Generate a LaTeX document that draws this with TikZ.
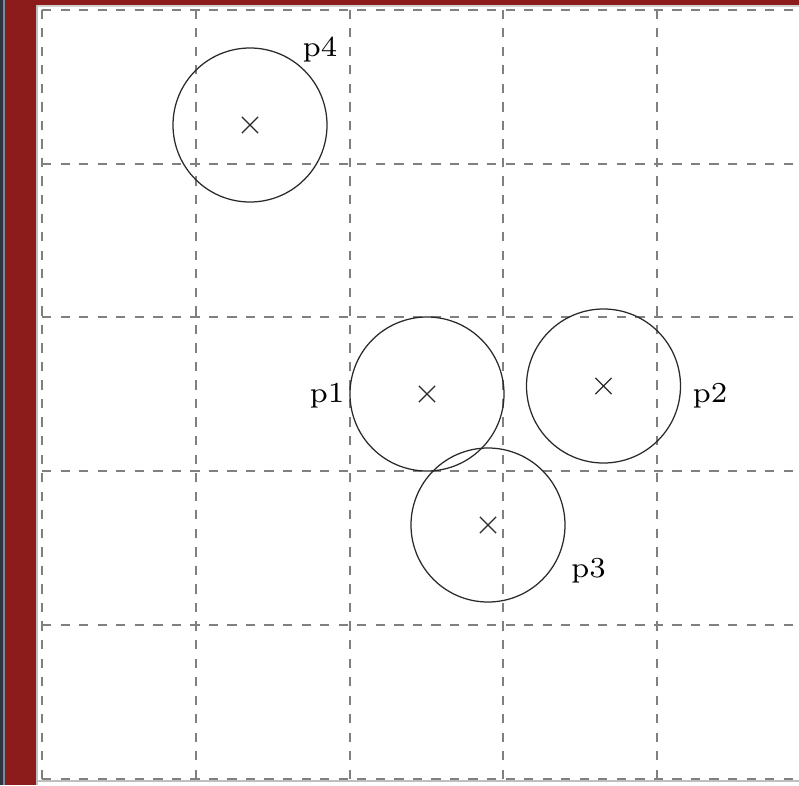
\documentclass[tikz,border=0pt]{standalone}
\usetikzlibrary{shapes.misc}
\font\labfont=cmr7 at 29pt
\definecolor{framered}{HTML}{8C1C1C}
\definecolor{darkbar}{HTML}{2E3440}
\definecolor{slatebar}{HTML}{7A8898}
\definecolor{gridgray}{HTML}{808080}
\definecolor{ink}{HTML}{2A2A2A}
\tikzset{
  gridline/.style={gridgray, line width=1.8pt, dash pattern=on 9.27pt off 9.27pt},
  ring/.style={circle, draw=ink, line width=1.25pt, minimum size=154pt, inner sep=0pt},
  xmark/.style={cross out, draw=ink, line width=1.2pt, minimum size=15pt, inner sep=0pt},
  lab/.style={anchor=base, inner sep=0pt, text=black, font=\labfont}
}
\begin{document}
\begin{tikzpicture}[x=1pt, y=-1pt]
\useasboundingbox (0,0) rectangle (799,785);
% window frame
\fill[white] (0,0) rectangle (799,785);
\fill[framered] (0,0) rectangle (36,785);
\fill[framered] (0,0) rectangle (799,5);
\fill[darkbar] (0,0) rectangle (3,785);
\fill[slatebar] (3,0) rectangle (5,785);
\fill[black!25] (36,5) rectangle (38,785);
\fill[black!18] (38,5) rectangle (799,6.5);
\fill[black!25] (38,780) rectangle (799,782);
\begin{scope}
\clip (38,6.5) rectangle (799,780);
% vertical grid lines (drawn bottom to top)
\foreach \gx in {42,196,350,503,657}
  \draw[gridline] (\gx,779) -- (\gx,10);
% horizontal grid lines
\foreach \gy in {10,164,317,471,625,779}
  \draw[gridline] (42,\gy) -- (830,\gy);
\end{scope}
% circles
\node[ring] (p1) at (427,394) {};
\node[ring] (p2) at (603.5,386) {};
\node[ring] (p3) at (488,525) {};
\node[ring] (p4) at (250,125) {};
% centre marks
\node[xmark] (c1) at (p1.center) {};
\node[xmark] (c2) at (p2.center) {};
\node[xmark] (c3) at (p3.center) {};
\node[xmark] (c4) at (p4.center) {};
% labels
\node[lab] (l1) at (327,402) {p1};
\node[lab] (l2) at (710,402) {p2};
\node[lab] (l3) at (588.5,577) {p3};
\node[lab] (l4) at (320,56) {p4};
\end{tikzpicture}
\end{document}
